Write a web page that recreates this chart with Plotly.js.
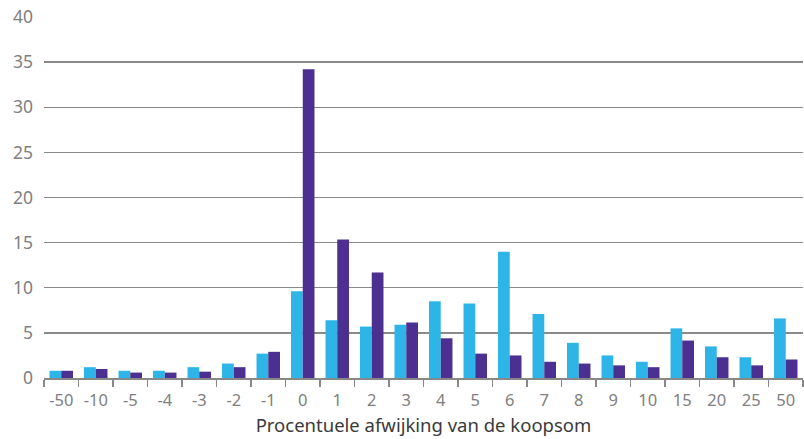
<!DOCTYPE html>
<html><head><meta charset="utf-8">
<script src="https://cdn.plot.ly/plotly-3.0.1.min.js"></script>
<style>html,body{margin:0;padding:0;background:#fff}#c{width:804px;height:439px}</style>
</head><body><div id="c"></div>
<script>
var categories = ["-50","-10","-5","-4","-3","-2","-1","0","1","2","3","4","5","6","7","8","9","10","15","20","25","50"];
var seriesA = [0.8,1.2,0.8,0.8,1.2,1.6,2.7,9.6,6.4,5.7,5.9,8.5,8.25,14.0,7.1,3.9,2.5,1.8,5.5,3.5,2.3,6.6];
var seriesB = [0.8,1.0,0.6,0.6,0.7,1.2,2.9,34.2,15.35,11.7,6.15,4.4,2.7,2.5,1.8,1.6,1.4,1.2,4.15,2.3,1.4,2.05];
var yTicks = [0,5,10,15,20,25,30,35,40];

var font = "'Noto Sans', 'Open Sans', sans-serif";
var data = [
  {type:"bar", x:categories, y:seriesA, marker:{color:"#2cb5e6"}, name:"A", hoverinfo:"y"},
  {type:"bar", x:categories, y:seriesB, marker:{color:"#4b2f91"}, name:"B", hoverinfo:"y"}
];
var layout = {
  width:804, height:439,
  margin:{l:44, r:1, t:17, b:61},
  paper_bgcolor:"#fff", plot_bgcolor:"#fff",
  barmode:"group", bargap:0.32, bargroupgap:0,
  showlegend:false,
  font:{family:font, color:"#808080", size:15},
  xaxis:{
    type:"category", tickson:"boundaries", ticks:"outside", ticklen:7, tickwidth:1.5, tickcolor:"#888",
    showline:true, linecolor:"#888", linewidth:1.5, showgrid:false,
    tickfont:{size:16.5, color:"#808080", family:font}, ticklabelstandoff:7,
    title:{text:"Procentuele afwijking van de koopsom", font:{size:18.5, color:"#3a3a3a", family:font}, standoff:9},
    fixedrange:true
  },
  yaxis:{
    range:[0,40], tickvals:yTicks, showgrid:true, gridcolor:"#8a8a8a", gridwidth:1.3,
    zeroline:false, showline:false, ticks:"", ticklabelstandoff:10,
    tickfont:{size:17.5, color:"#808080", family:font}, fixedrange:true
  }
};
Plotly.newPlot("c", data, layout, {displayModeBar:false, staticPlot:true});
</script></body></html>
